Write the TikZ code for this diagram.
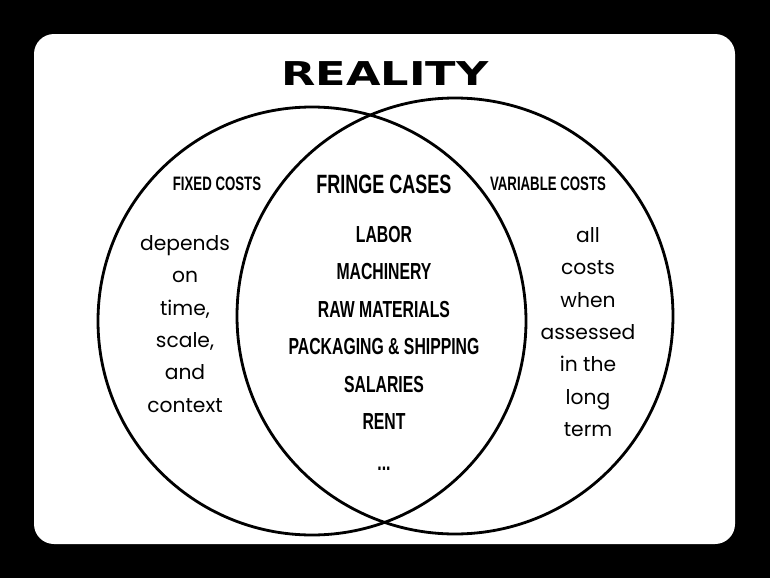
\documentclass[tikz,border=0pt]{standalone}
\usepackage{fontspec}
\usetikzlibrary{positioning}
\newfontfamily\titlefont[FakeStretch=1.36]{DejaVu Sans}
\newfontfamily\capsfont[FakeStretch=0.68]{Liberation Sans}
\newfontfamily\bodyfont{Poppins}
\definecolor{inkOne}{HTML}{000000}
\definecolor{paper}{HTML}{FFFFFF}
\tikzset{
  ring/.style={draw=inkOne, line width=2.4pt},
  sethead/.style={inner sep=0pt, text=inkOne, font=\capsfont\bfseries\fontsize{16.6}{18}\selectfont},
  casehead/.style={inner sep=0pt, text=inkOne, font=\capsfont\bfseries\fontsize{22.6}{24}\selectfont},
  caseitem/.style={inner sep=0pt, text=inkOne, align=center, font=\capsfont\bfseries\fontsize{19.8}{32}\selectfont},
  note/.style={inner sep=0pt, text=inkOne, align=center, font=\bodyfont\fontsize{17.3}{27.6}\selectfont},
}
\begin{document}
\begin{tikzpicture}[x=0.03cm, y=-0.03cm]
  % ---- frame
  \fill[inkOne] (0,0) rectangle (770,578);
  \fill[paper, rounded corners=0.6cm] (34,34) rectangle (735,544);
  \node[inner sep=0pt, font=\titlefont\bfseries\fontsize{28}{30}\selectfont] (title) at (385,74) {REALITY};
  % ---- the two sets
  \draw[ring] (312,321) circle[radius=214];
  \draw[ring] (455,316) circle[radius=218];
  \node[sethead] (fixed) at (217,184) {FIXED COSTS};
  \node[casehead] (fringe) at (384,184) {FRINGE CASES};
  \node[sethead] (variable) at (548,184) {VARIABLE COSTS};
  % ---- overlap
  \node[caseitem] (items) at (384,328)
    {LABOR\\MACHINERY\\RAW MATERIALS\\PACKAGING \& SHIPPING\\SALARIES\\RENT};
  \node[caseitem, anchor=base] (dots) at (384,470) {...};
  % ---- notes
  \node[note] (fixednote) at (185,324) {depends\\on\\time,\\scale,\\and\\context};
  \node[note] (varnote) at (588,332) {all\\costs\\when\\assessed\\in the\\long\\term};
\end{tikzpicture}
\end{document}
